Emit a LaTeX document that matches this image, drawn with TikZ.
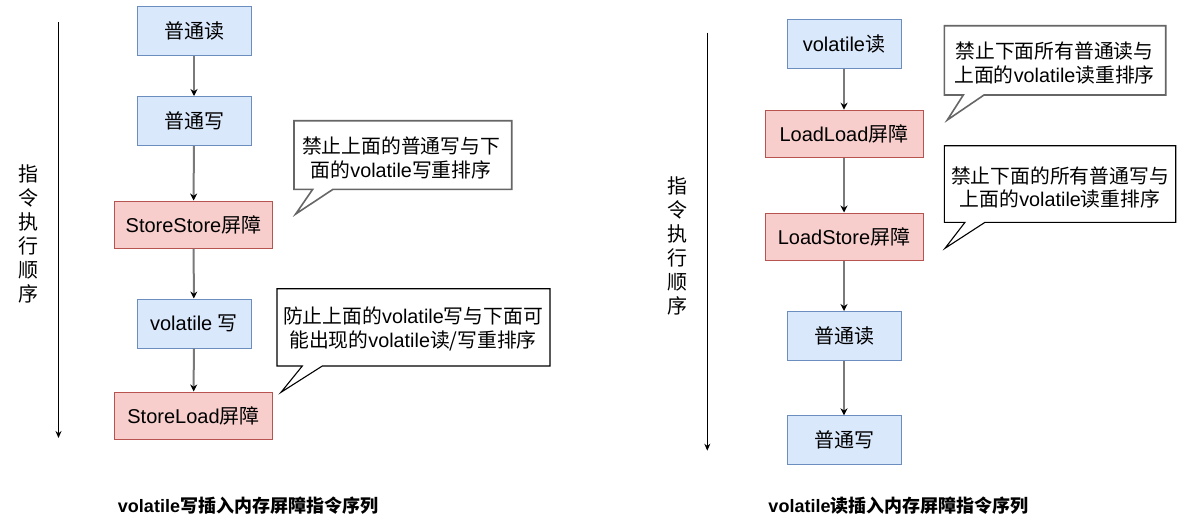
\documentclass[tikz,border=0pt]{standalone}
\usepackage{fontspec}
\setmainfont{Noto Sans CJK SC}
\newfontfamily\lat{Liberation Sans}
\usetikzlibrary{arrows.meta}
\definecolor{bfill}{HTML}{DAE8FC}
\definecolor{bline}{HTML}{6C8EBF}
\definecolor{rfill}{HTML}{F8CECC}
\definecolor{rline}{HTML}{B85450}
\definecolor{conngray}{HTML}{7A7A7A}
\definecolor{callgray}{HTML}{666666}
\tikzset{
  bluebox/.style={draw=bline, fill=bfill, line width=1pt, minimum width=114pt, minimum height=49pt, inner sep=0pt, font=\fontsize{20}{24}\selectfont},
  redbox/.style={draw=rline, fill=rfill, line width=1pt, minimum width=158pt, minimum height=47pt, inner sep=0pt, font=\fontsize{20}{24}\selectfont},
  conn/.style={draw=conngray, line width=2pt, -{Stealth[black,length=7pt,width=7pt]}},
  timeline/.style={draw=black, line width=1.1pt, -{Stealth[black,length=7pt,width=6pt]}},
  calltext/.style={align=center, inner sep=0pt, font=\fontsize{19.8}{23.5}\selectfont},
  callgrayline/.style={draw=callgray, line width=1.6pt, fill=white, line join=miter},
  callblackline/.style={draw=black, line width=1.1pt, fill=white, line join=miter},
  vlabel/.style={align=center, inner sep=0pt, font=\fontsize{20}{24}\selectfont},
  caption/.style={inner sep=0pt, font=\fontsize{18}{22}\selectfont\bfseries}
}
\begin{document}
\begin{tikzpicture}[x=1pt,y=-1pt]
\useasboundingbox[fill=white] (0,0) rectangle (1195,525);

% ---------------- left ----------------
\coordinate (lt0) at (58.5,22);
\coordinate (lt1) at (58.5,438);
\draw[timeline] (lt0) -- (lt1);
\node[vlabel] (llab) at (28,234) {指\\令\\执\\行\\顺\\序};

\node[bluebox] (a1) at (194,30.5) {\raisebox{-1pt}{普通读}};
\node[bluebox] (a2) at (194,121) {\raisebox{-1pt}{普通写}};
\node[redbox]  (a3) at (193.5,224.5) {\raisebox{-1pt}{{\lat StoreStore}屏障}};
\node[bluebox] (a4) at (194,323.5) {\raisebox{-1pt}{{\lat volatile }写}};
\node[redbox]  (a5) at (193.5,415.5) {\raisebox{-1pt}{{\lat StoreLoad}屏障}};
\draw[conn] (a1) -- (a2);
\draw[conn] (a2) -- (a3);
\draw[conn] (a3) -- (a4);
\draw[conn] (a4) -- (a5);

\draw[callgrayline] (294,120.7) -- (511.7,120.7) -- (511.7,189.3) -- (333,189.3) -- (295.7,214) -- (312.7,189.3) -- (294,189.3) -- cycle;
\node[calltext] (c1) at (401,158) {禁止上面的普通写与下\\面的{\lat volatile}写重排序};

\draw[callblackline] (277,288.7) -- (550,288.7) -- (550,366) -- (322.3,366) -- (281,392.3) -- (302.3,366) -- (277,366) -- cycle;
\node[calltext] (c2) at (413,329) {防止上面的{\lat volatile}写与下面可\\能出现的{\lat volatile}读/写重排序};

\node[caption] (cap1) at (248,505.5) {{\lat\bfseries volatile}写插入内存屏障指令序列};

% ---------------- right ----------------
\coordinate (rt0) at (707.3,32.7);
\coordinate (rt1) at (707.3,450.7);
\draw[timeline] (rt0) -- (rt1);
\node[vlabel] (rlab) at (677,246) {指\\令\\执\\行\\顺\\序};

\node[bluebox] (b1) at (844,43.5) {\raisebox{-1pt}{{\lat volatile}读}};
\node[redbox]  (b2) at (844,133.7) {\raisebox{-1pt}{{\lat LoadLoad}屏障}};
\node[redbox]  (b3) at (844,236.5) {\raisebox{-1pt}{{\lat LoadStore}屏障}};
\node[bluebox] (b4) at (844,336) {\raisebox{-1pt}{普通读}};
\node[bluebox] (b5) at (844,440.3) {\raisebox{-1pt}{普通写}};
\draw[conn] (b1) -- (b2);
\draw[conn] (b2) -- (b3);
\draw[conn] (b3) -- (b4);
\draw[conn] (b4) -- (b5);

\draw[callgrayline] (944.3,25.7) -- (1165.7,25.7) -- (1165.7,95) -- (984,95) -- (947.3,120) -- (963.3,95) -- (944.3,95) -- cycle;
\node[calltext] (c3) at (1054.5,63) {禁止下面所有普通读与\\上面的{\lat volatile}读重排序};

\draw[callblackline] (944.3,145.7) -- (1175.7,145.7) -- (1175.7,222.3) -- (985,222.3) -- (945,248.3) -- (965,222.3) -- (944.3,222.3) -- cycle;
\node[calltext] (c4) at (1060,187.5) {禁止下面的所有普通写与\\上面的{\lat volatile}读重排序};

\node[caption] (cap2) at (898.5,505.5) {{\lat\bfseries volatile}读插入内存屏障指令序列};
\end{tikzpicture}
\end{document}
